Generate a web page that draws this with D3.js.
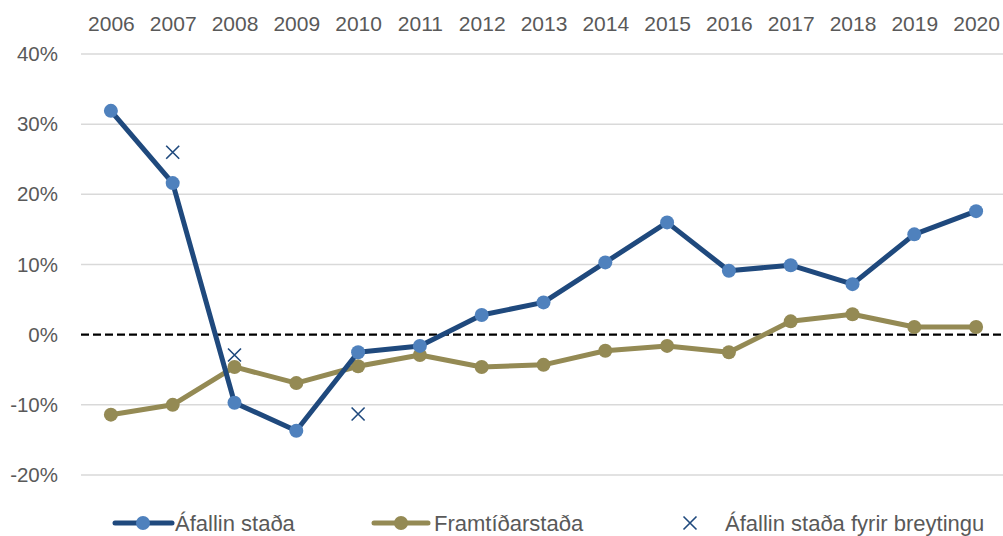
<!DOCTYPE html>
<html>
<head>
<meta charset="utf-8">
<script src="https://cdn.jsdelivr.net/npm/d3@7"></script>
<style>
    body { margin: 0; background: #fff; }
    svg { display: block; font-family: "Liberation Sans", Arial, sans-serif; }
</style>
</head>
<body>
<svg width="1003" height="536"></svg>
<script>
const years = [2006, 2007, 2008, 2009, 2010, 2011, 2012, 2013, 2014, 2015, 2016, 2017, 2018, 2019, 2020];
const afallin = [31.9, 21.6, -9.7, -13.7, -2.5, -1.6, 2.8, 4.6, 10.3, 16.0, 9.1, 9.9, 7.2, 14.3, 17.6];
const framtid = [-11.4, -10.0, -4.6, -6.9, -4.5, -2.9, -4.6, -4.3, -2.3, -1.6, -2.5, 1.9, 2.9, 1.1, 1.1];
// only three years have a "before change" value
const fyrirYears = [2007, 2008, 2010];
const fyrir = [26.0, -2.9, -11.3];
const yTicks = [-20, -10, 0, 10, 20, 30, 40];
const legendLabels = ["Áfallin staða", "Framtíðarstaða", "Áfallin staða fyrir breytingu"];

const width = 1003, height = 536;
const blueLine = "#1f497d", blueDot = "#4f81bd", olive = "#948a54", textCol = "#595959";

const svg = d3.select("svg");

const x = d3.scalePoint()
    .domain(years)
    .range([80, 1007])
    .padding(0.5);

const y = d3.scaleLinear()
    .domain([-20, 40])
    .range([475, 54]);

// gridlines
svg.append("g")
    .selectAll("line")
    .data(yTicks.filter(d => d !== 0))
    .join("line")
    .attr("x1", 81).attr("x2", width)
    .attr("y1", d => y(d)).attr("y2", d => y(d))
    .attr("stroke", "#d9d9d9")
    .attr("stroke-width", 1.5);

// zero line
svg.append("line")
    .attr("x1", 81).attr("x2", width)
    .attr("y1", y(0)).attr("y2", y(0))
    .attr("stroke", "#000")
    .attr("stroke-width", 2.2)
    .attr("stroke-dasharray", "8,4");

// y axis labels
const yAxis = svg.append("g")
    .attr("transform", "translate(58,0)")
    .call(d3.axisLeft(y).tickValues(yTicks).tickSize(0).tickPadding(0).tickFormat(d => d + "%"));
yAxis.select(".domain").remove();
yAxis.selectAll("text")
    .attr("fill", textCol)
    .style("font-size", "20.5px")
    .style("font-family", "Liberation Sans, Arial, sans-serif");

// x axis labels on top
const xAxis = svg.append("g")
    .attr("transform", "translate(0,31)")
    .call(d3.axisTop(x).tickSize(0).tickPadding(0));
xAxis.select(".domain").remove();
xAxis.selectAll("text")
    .attr("fill", textCol)
    .style("font-size", "21px")
    .style("font-family", "Liberation Sans, Arial, sans-serif");

const line = d3.line()
    .x(d => x(d[0]))
    .y(d => y(d[1]));

function drawSeries(vals, stroke, fill) {
    const pts = years.map((yr, i) => [yr, vals[i]]);
    svg.append("path")
        .datum(pts)
        .attr("d", line)
        .attr("fill", "none")
        .attr("stroke", stroke)
        .attr("stroke-width", 5)
        .attr("stroke-linejoin", "round");
    svg.append("g")
        .selectAll("circle")
        .data(pts)
        .join("circle")
        .attr("cx", d => x(d[0]))
        .attr("cy", d => y(d[1]))
        .attr("r", 7)
        .attr("fill", fill);
}

drawSeries(framtid, olive, olive);
drawSeries(afallin, blueLine, blueDot);

function cross(g, cx, cy, s) {
    g.append("path")
        .attr("d", `M${cx - s},${cy - s}L${cx + s},${cy + s}M${cx - s},${cy + s}L${cx + s},${cy - s}`)
        .attr("stroke", blueLine)
        .attr("stroke-width", 1.6)
        .attr("fill", "none");
}

const crosses = svg.append("g");
fyrirYears.forEach((yr, i) => cross(crosses, x(yr), y(fyrir[i]), 6.5));

// legend
const ly = 523;
const legend = svg.append("g");

legend.append("line")
    .attr("x1", 115).attr("x2", 172).attr("y1", ly).attr("y2", ly)
    .attr("stroke", blueLine).attr("stroke-width", 5).attr("stroke-linecap", "round");
legend.append("circle").attr("cx", 143).attr("cy", ly).attr("r", 7).attr("fill", blueDot);

legend.append("line")
    .attr("x1", 374).attr("x2", 428).attr("y1", ly).attr("y2", ly)
    .attr("stroke", olive).attr("stroke-width", 5).attr("stroke-linecap", "round");
legend.append("circle").attr("cx", 401).attr("cy", ly).attr("r", 7).attr("fill", olive);

cross(legend, 690, ly, 6.5);

legend.selectAll("text")
    .data(legendLabels)
    .join("text")
    .attr("x", (d, i) => [175, 434, 725][i])
    .attr("y", ly)
    .attr("dy", "0.35em")
    .attr("fill", textCol)
    .style("font-size", "22px")
    .text(d => d);
</script>
</body>
</html>
